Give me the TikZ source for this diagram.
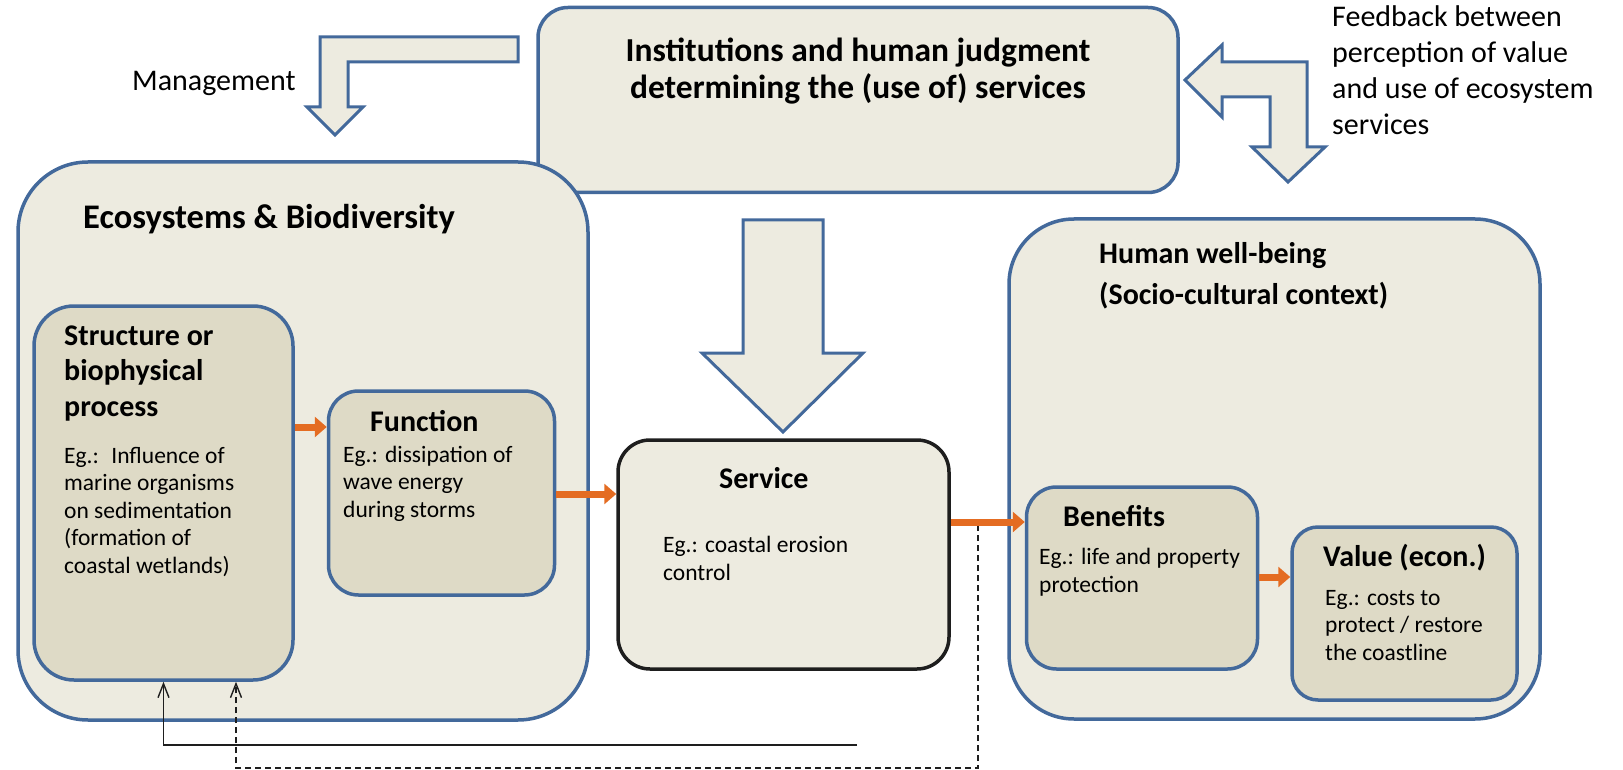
\documentclass[tikz,border=0pt]{standalone}
\usepackage{fontspec}
\setmainfont{Carlito}
\usepackage{tikz}
\usetikzlibrary{arrows.meta}
\definecolor{EcoBlue}{HTML}{43699B}
\definecolor{EcoLight}{HTML}{EDEBE0}
\definecolor{EcoDark}{HTML}{DEDAC6}
\definecolor{EcoOrange}{HTML}{E46C22}
\definecolor{EcoInk}{HTML}{1E1E1E}

\begin{document}
\begin{tikzpicture}[x=1pt, y=-1pt,
  outer/.style={draw=EcoBlue, fill=EcoLight, line width=3.5pt,
    rounded corners=#1, inner sep=0pt},
  inner/.style={draw=EcoBlue, fill=EcoDark, line width=3.5pt,
    rounded corners=#1, inner sep=0pt},
  blockarrow/.style={draw=EcoBlue, fill=EcoLight, line width=3pt},
  flow/.style={-{Triangle[length=12pt, width=20pt]}, EcoOrange, line width=7pt},
  fb/.style={-{Straight Barb[length=14pt, width=11pt]}, EcoInk, line width=1.4pt},
  big/.style={font=\fontsize{33.5}{37}\selectfont\bfseries, inner sep=0pt},
  hd/.style={font=\fontsize{30}{35.5}\selectfont\bfseries, anchor=base west,
    align=left, inner sep=0pt},
  tx/.style={font=\fontsize{23.5}{27.5}\selectfont, anchor=base west,
    align=left, inner sep=0pt},
  note/.style={font=\fontsize{30}{36}\selectfont, anchor=base west,
    align=left, inner sep=0pt}]
  \useasboundingbox (0,0) rectangle (1623,770);

  % outer boxes
  \node[outer=30pt, minimum width=640pt, minimum height=185pt] (inst) at (858,100) {};
  \node[outer=70pt, minimum width=570pt, minimum height=558pt] (eco) at (303,441) {};
  \node[outer=65pt, minimum width=531pt, minimum height=500pt] (hwb) at (1274.5,469) {};

  % inner boxes
  \node[inner=40pt, minimum width=259pt, minimum height=374pt] (struct) at (163.5,493) {};
  \node[inner=30pt, minimum width=226pt, minimum height=204pt] (fn) at (441.5,493) {};
  \node[outer=32pt, draw=EcoInk, minimum width=331pt, minimum height=229pt] (serv) at (783.5,554.5) {};
  \node[inner=30pt, minimum width=231pt, minimum height=182pt] (ben) at (1142,578) {};
  \node[inner=26pt, minimum width=225pt, minimum height=173pt] (val) at (1404.5,613.5) {};

  % labels (multi-line ones sit on the baseline of their last line)
  \node[big, align=center, anchor=base] (instlbl) at (858,99)
    {Institutions and human judgment\\determining the (use of) services};
  \node[big, font=\fontsize{34.5}{37}\selectfont\bfseries, anchor=base west] (ecolbl) at (83,229)
    {Ecosystems \& Biodiversity};
  \node[hd] (hwblbl) at (1099,305) {Human well-being\\[6pt](Socio-cultural context)};
  \node[hd] (structlbl) at (64,416) {Structure or\\biophysical\\process};
  \node[tx] (structtx) at (64,573) {Eg.:~ Influence of\\marine organisms\\on sedimentation\\(formation of\\coastal wetlands)};
  \node[hd] (fnlbl) at (370,431) {Function};
  \node[tx] (fntx) at (343,517) {Eg.: dissipation of\\wave energy\\during storms};
  \node[hd] (servlbl) at (719,488) {Service};
  \node[tx] (servtx) at (663,580) {Eg.: coastal erosion\\control};
  \node[hd] (benlbl) at (1063,526) {Benefits};
  \node[tx] (bentx) at (1039,592) {Eg.: life and property\\protection};
  \node[hd] (vallbl) at (1323,566) {Value (econ.)};
  \node[tx] (valtx) at (1325,660) {Eg.: costs to\\protect / restore\\the coastline};
  \node[note] (mgmt) at (132,91) {Management};
  \node[note] (fbnote) at (1332,135) {Feedback between\\perception of value\\and use of ecosystem\\services};

  % block arrows
  \draw[blockarrow] (518,37) -- (320,37) -- (320,107) -- (307,107) -- (335,135)
    -- (363,107) -- (348,107) -- (348,62) -- (518,62) -- cycle;
  \draw[blockarrow] (743,220) -- (823,220) -- (823,353) -- (863,353) -- (783,432)
    -- (702,353) -- (743,353) -- cycle;
  \draw[blockarrow] (1185,80) -- (1222,45) -- (1222,62) -- (1307,62) -- (1307,147)
    -- (1325,147) -- (1288,182) -- (1252,147) -- (1270,147) -- (1270,97)
    -- (1222,97) -- (1222,117) -- cycle;

  % feedback to the ecosystem
  \coordinate (fbs) at (857,745);
  \coordinate (fbd) at (978,525);
  \coordinate (fbcorner) at (236,768);
  \draw[fb] (fbs) -| (struct.south);
  \draw[fb, dash pattern=on 6pt off 4pt] (fbd) |- (fbcorner) -- (fbcorner |- struct.south);

  % service chain
  \draw[flow] (struct.east |- 0,427) -- (fn.west |- 0,427);
  \draw[flow] (fn.east |- 0,494) -- (serv.west |- 0,494);
  \draw[flow] (serv.east |- 0,522) -- (ben.west |- 0,522);
  \draw[flow] (ben.east |- 0,577) -- (val.west |- 0,577);
\end{tikzpicture}
\end{document}
